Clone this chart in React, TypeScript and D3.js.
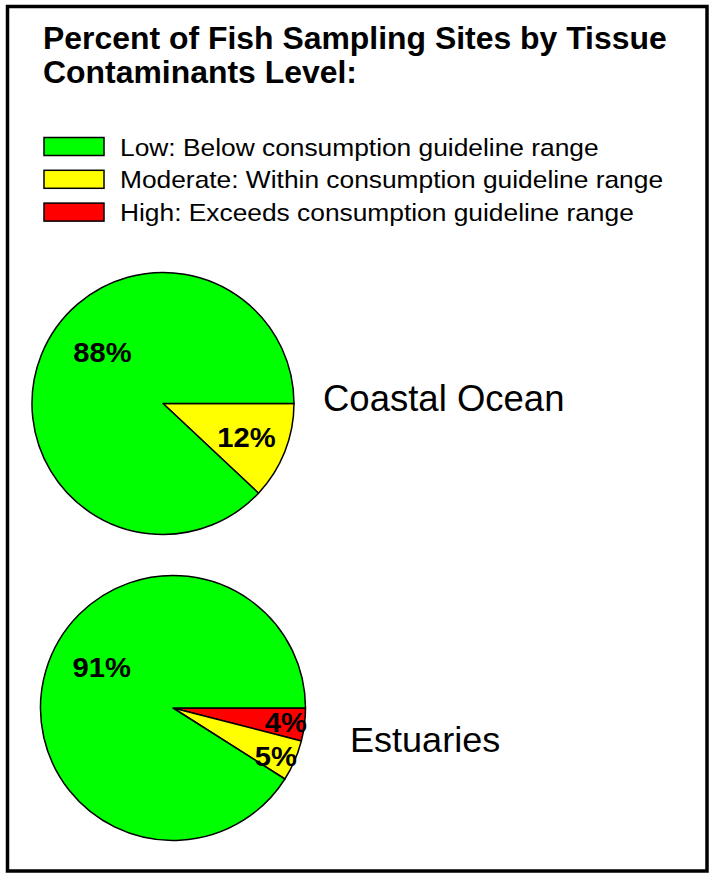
import React from "react";
import * as d3 from "d3";

// ---- data ----
const levelNames = ["Low", "Moderate", "High"];
const levelLegend = [
  "Low: Below consumption guideline range",
  "Moderate: Within consumption guideline range",
  "High: Exceeds consumption guideline range",
];
const levelColors = ["#00ff00", "#ffff00", "#ff0000"];
const regions = ["Coastal Ocean", "Estuaries"];
const coastalValues = [88, 12, 0]; // Low, Moderate, High
const estuaryValues = [91, 5, 4];
const titleLines = ["Percent of Fish Sampling Sites by Tissue", "Contaminants Level:"];

// ---- layout ----
const W = 712;
const H = 874;
const FONT = "'Liberation Sans', Arial, Helvetica, sans-serif";
const pieLayout = [
  { cx: 163, cy: 403.5, r: 131, nameX: 323, nameY: 411, nameSize: 36.5, nameSx: 1.0,
    labelPos: [[-60.5, -41.5], [83.5, 43]] },
  { cx: 173, cy: 708, r: 132.5, nameX: 350, nameY: 752, nameSize: 35, nameSx: 1.03,
    labelPos: [[-71.3, -30.7], [102.8, 57.7], [112.8, 23.7]] },
];

export default function App() {
  const series = [coastalValues, estuaryValues];
  const pieGen = d3
    .pie<number>()
    .sort(null)
    .value((d) => d)
    .startAngle(Math.PI / 2)
    .endAngle(Math.PI / 2 + 2 * Math.PI);

  return (
    <svg
      width={W}
      height={H}
      style={{ position: "absolute", left: 0, top: 0, background: "#fff" }}
      fontFamily={FONT}
    >
      <rect x={0} y={0} width={W} height={H} fill="#fff" />
      <rect x={7.5} y={6.5} width={699.5} height={864.5} fill="none" stroke="#000" strokeWidth={3.5} />

      {titleLines.map((t, i) => (
        <text
          key={t}
          transform={`translate(43,${48.5 + i * 34.5}) scale(1.03,1)`}
          fontSize={31}
          fontWeight="bold"
          fill="#000"
        >
          {t}
        </text>
      ))}

      {levelLegend.map((t, i) => (
        <g key={t}>
          <rect
            x={44}
            y={137.5 + i * 32.8}
            width={60}
            height={18}
            fill={levelColors[i]}
            stroke="#000"
            strokeWidth={1.5}
          />
          <text
            transform={`translate(120,${156 + i * 32.3}) scale(1.08,1)`}
            fontSize={24.4}
            fill="#000"
          >
            {t}
          </text>
        </g>
      ))}

      {series.map((vals, pi) => {
        const L = pieLayout[pi];
        // clockwise from 3 o'clock: High, Moderate, Low
        const order = [2, 1, 0];
        const arcs = pieGen(order.map((k) => vals[k]));
        const arcGen = d3.arc<d3.PieArcDatum<number>>().innerRadius(0).outerRadius(L.r);
        return (
          <g key={regions[pi]}>
            <g transform={`translate(${L.cx},${L.cy})`}>
              {arcs.map((a, j) => {
                const k = order[j];
                if (vals[k] <= 0) return null;
                return (
                  <path
                    key={levelNames[k]}
                    d={arcGen(a) || ""}
                    fill={levelColors[k]}
                    stroke="#000"
                    strokeWidth={1.5}
                    strokeLinejoin="round"
                  />
                );
              })}
              {arcs.map((a, j) => {
                const k = order[j];
                if (vals[k] <= 0) return null;
                const [dx, dy] = L.labelPos[k];
                return (
                  <text
                    key={"l" + levelNames[k]}
                    transform={`translate(${dx},${dy}) scale(1.08,1)`}
                    textAnchor="middle"
                    fontSize={27}
                    fontWeight="bold"
                    fill="#000"
                  >
                    {`${vals[k]}%`}
                  </text>
                );
              })}
            </g>
            <text
              transform={`translate(${L.nameX},${L.nameY}) scale(${L.nameSx},1)`}
              fontSize={L.nameSize}
              fill="#000"
            >
              {regions[pi]}
            </text>
          </g>
        );
      })}
    </svg>
  );
}
